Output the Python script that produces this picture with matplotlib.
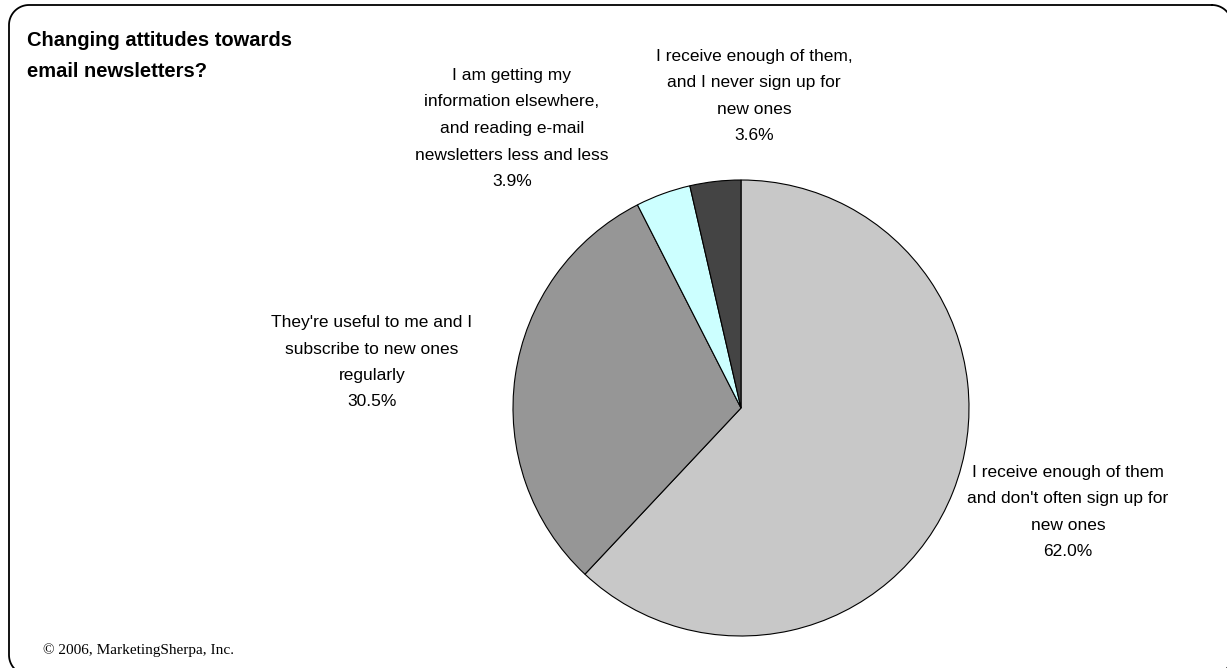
import numpy as np
import matplotlib
matplotlib.use("Agg")
import matplotlib.pyplot as plt

# data
labels = [
    "I receive enough of them\nand don't often sign up for\nnew ones",
    "They're useful to me and I\nsubscribe to new ones\nregularly",
    "I am getting my\ninformation elsewhere,\nand reading e-mail\nnewsletters less and less",
    "I receive enough of them,\nand I never sign up for\nnew ones",
]
shares = [62.0, 30.5, 3.9, 3.6]
colors = ["#c8c8c8", "#969696", "#ccffff", "#444444"]
# label anchor: centre x, baseline of first line (pixels, y from top)
label_pos = [(1068, 477), (372, 327), (512, 80), (754, 61)]

title = "Changing attitudes towards\nemail newsletters?"
credit = "\u00a9 2006, MarketingSherpa, Inc."

W, H = 1227, 668
LINE = 26.5  # px between label baselines


def rounded_rect(x0, y0, x1, y1, rad, n=20):
    # corner arcs, y measured from top
    pts = []
    for (cx, cy, a0) in [(x1 - rad, y0 + rad, -90), (x1 - rad, y1 - rad, 0),
                         (x0 + rad, y1 - rad, 90), (x0 + rad, y0 + rad, 180)]:
        a = np.radians(np.linspace(a0, a0 + 90, n))
        pts += list(zip(cx + rad * np.cos(a), cy + rad * np.sin(a)))
    pts.append(pts[0])
    return np.array(pts)


fig = plt.figure(figsize=(W / 100, H / 100), dpi=100)
fig.patch.set_facecolor("white")

# overlay in pixel coordinates (y down) for frame and text
bg = fig.add_axes([0, 0, 1, 1])
bg.set_xlim(0, W)
bg.set_ylim(H, 0)
bg.axis("off")
fr = rounded_rect(9, 5, 1232, 675, 20)
bg.plot(fr[:, 0], fr[:, 1], color="black", lw=1.3)

# pie
cx, cy, r = 741, 408, 228
ax = fig.add_axes([(cx - r) / W, (H - cy - r) / H, 2 * r / W, 2 * r / H])
ax.pie(shares, colors=colors, startangle=90, counterclock=False,
       wedgeprops=dict(edgecolor="black", linewidth=0.8))
ax.set_xlim(-1, 1)
ax.set_ylim(-1, 1)
ax.set_aspect("auto")
ax.axis("off")

for lab, val, (x, y) in zip(labels, shares, label_pos):
    lines = lab.split("\n") + [f"{val:.1f}%"]
    for i, ln in enumerate(lines):
        bg.text(x, y + i * LINE, ln, ha="center", va="baseline",
                fontsize=12.5, family="Liberation Sans")

for i, ln in enumerate(title.split("\n")):
    bg.text(27, 46 + i * 31, ln, ha="left", va="baseline", fontsize=14.5,
            fontweight="bold", family="Liberation Sans")
bg.text(43, 654, credit, ha="left", va="baseline", fontsize=11,
        family="Liberation Serif")

fig.savefig("out.png", dpi=100)
